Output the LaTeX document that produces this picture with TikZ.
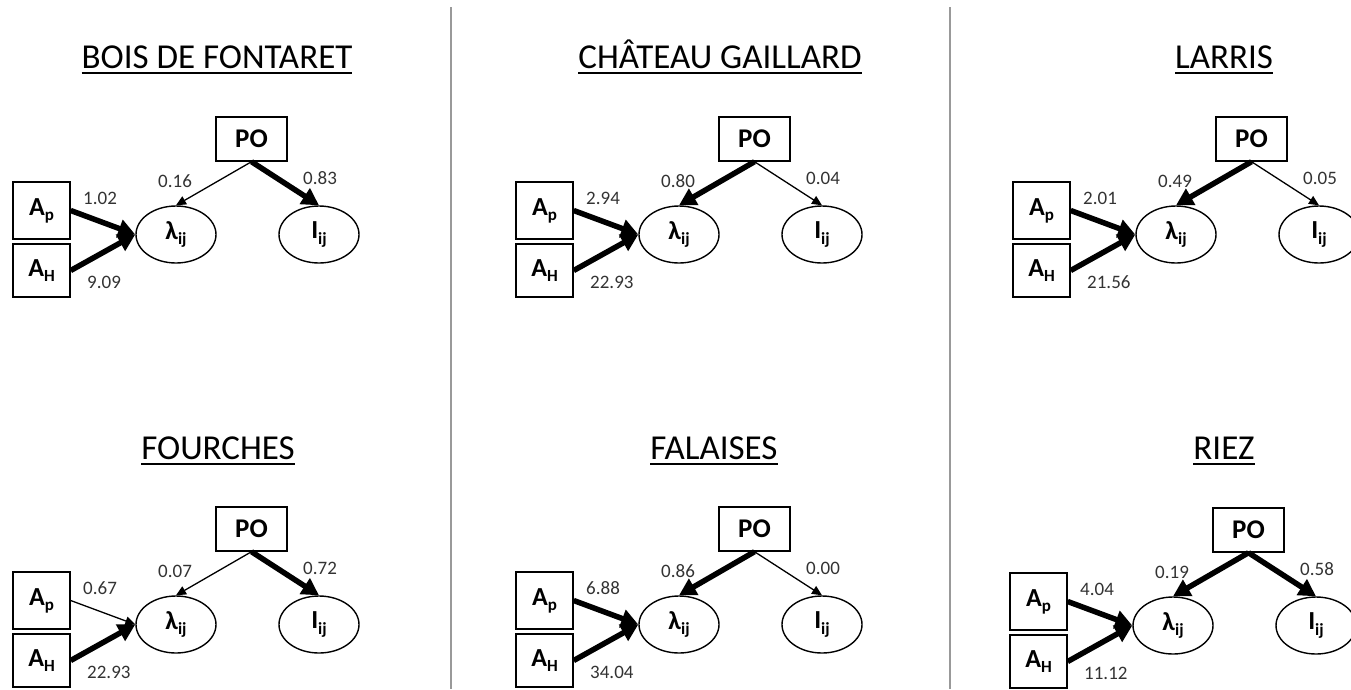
\documentclass[tikz,border=0pt]{standalone}
\usepackage{fontspec}
\setmainfont{Carlito}
\usetikzlibrary{shapes.geometric,arrows.meta}
\newcommand\sbs[1]{\raisebox{-0.2em}{\fontsize{17}{17}\selectfont #1}}
\newsavebox\ttlbox
\newcommand\ttl[1]{\sbox\ttlbox{#1}\rlap{\rule[-6pt]{\wd\ttlbox}{2pt}}\usebox\ttlbox}
\newcommand\mypanel[9]{%
 \node[boxn, minimum width=71, minimum height=44, font=\fontsize{27}{28}\selectfont\bfseries] (#1po) at (251.5,139) {PO};
 \node[boxn, minimum width=57, minimum height=57] (#1ap) at (41.5,210.5) {A\sbs{p}};
 \node[boxn, minimum width=57, minimum height=53] (#1ah) at (41.5,270.5) {A\sbs{H}};
 \node[elln] (#1lam) at (176,234.5) {λ\sbs{ij}};
 \node[elln] (#1i) at (319,234.5) {I\sbs{ij}};
 \draw[#4] (#1po.south) -- (#1lam.north);
 \draw[#6] (#1po.south) -- (#1i.north);
 \draw[#8] (#1ap.east) -- (#1lam.west);
 \draw[wthick] (#1ah.east) -- (#1lam.west);
 \node[num] (#1n1) at (158,187) {#3};
 \node[num] (#1n2) at (303,184) {#5};
 \node[num] (#1n3) at (83,204) {#7};
 \node[num] (#1n4) at (87,288) {#9};
}
\begin{document}
\begin{tikzpicture}[x=1pt,y=-1pt,
  boxn/.style={draw, line width=1.4pt, inner sep=0, font=\fontsize{26}{28}\selectfont\bfseries},
  elln/.style={draw, ellipse, line width=1.4pt, inner sep=0, minimum width=80, minimum height=57, font=\fontsize{26}{28}\selectfont\bfseries},
  num/.style={anchor=base west, inner sep=0, text=black!80, font=\fontsize{19}{20}\selectfont},
  ttln/.style={anchor=base, inner sep=0, font=\fontsize{35}{38}\selectfont},
  wthin/.style={line width=1.3pt, -{Triangle[length=10pt,width=9pt]}},
  wthick/.style={line width=5.5pt, -{Triangle[length=17pt,width=18pt]}},
  sep/.style={draw=black!40, line width=2pt}]
\useasboundingbox (0,0) rectangle (1351,689);
\coordinate (s1a) at (451,7); \coordinate (s1b) at (451,689);
\coordinate (s2a) at (950,7); \coordinate (s2b) at (950,689);
\draw[sep] (s1a) -- (s1b);
\draw[sep] (s2a) -- (s2b);
\node[ttln] (t1) at (217,68) {\ttl{BOIS DE FONTARET}};
\node[ttln] (t2) at (720,68) {\ttl{CHÂTEAU GAILLARD}};
\node[ttln] (t3) at (1224,68) {\ttl{LARRIS}};
\node[ttln] (t4) at (218,459) {\ttl{FOURCHES}};
\node[ttln] (t5) at (714,459) {\ttl{FALAISES}};
\node[ttln] (t6) at (1224,459) {\ttl{RIEZ}};
\begin{scope}
 \mypanel{a}{}{0.16}{wthin}{0.83}{wthick}{1.02}{wthick}{9.09}
\end{scope}
\begin{scope}[shift={(503,0)}]
 \mypanel{b}{}{0.80}{wthick}{0.04}{wthin}{2.94}{wthick}{22.93}
\end{scope}
\begin{scope}[shift={(1000,0)}]
 \mypanel{c}{}{0.49}{wthick}{0.05}{wthin}{2.01}{wthick}{21.56}
\end{scope}
\begin{scope}[shift={(0,390)}]
 \mypanel{d}{}{0.07}{wthin}{0.72}{wthick}{0.67}{wthin}{22.93}
\end{scope}
\begin{scope}[shift={(503,390)}]
 \mypanel{e}{}{0.86}{wthick}{0.00}{wthin}{6.88}{wthick}{34.04}
\end{scope}
\begin{scope}[shift={(997,391)}]
 \mypanel{f}{}{0.19}{wthick}{0.58}{wthick}{4.04}{wthick}{11.12}
\end{scope}
\end{tikzpicture}
\end{document}
